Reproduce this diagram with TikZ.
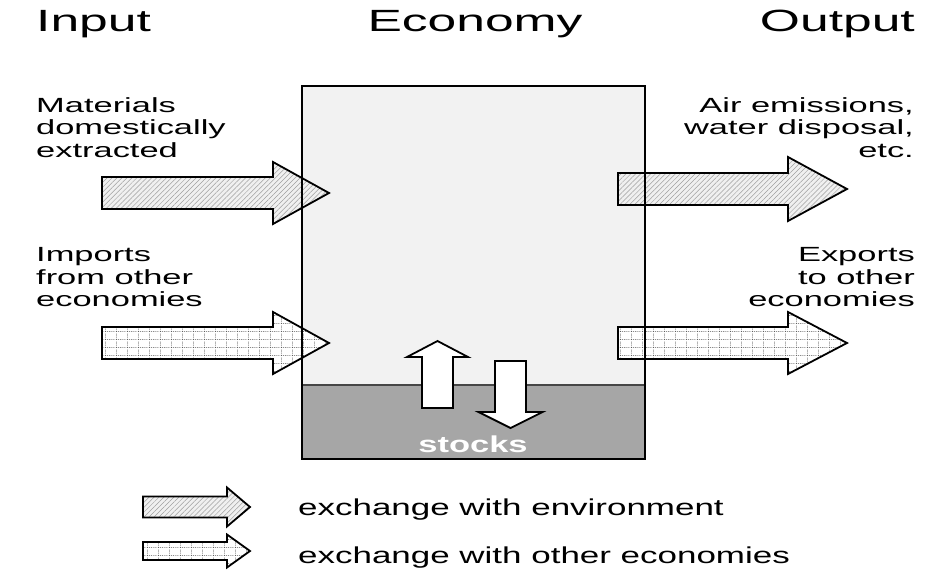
\documentclass[tikz,border=0pt]{standalone}
\usepackage{fontspec}
\setmainfont[FakeStretch=1.68]{Liberation Sans}
\newfontfamily\legfont[FakeStretch=1.52]{Liberation Sans}
\newfontfamily\stkfont[FakeStretch=1.5]{Liberation Sans}
\usetikzlibrary{patterns.meta}

\pgfdeclarepattern{name=dotgrid, type=uncolored,
  bottom left={\pgfpoint{0pt}{0pt}}, top right={\pgfpoint{10.5pt}{8pt}},
  tile size={\pgfpoint{10.5pt}{8pt}},
  code={\pgfsetlinewidth{0.6pt}\pgfsetdash{{1pt}{1pt}}{0pt}%
    \pgfpathmoveto{\pgfpoint{0pt}{0.3pt}}\pgfpathlineto{\pgfpoint{10.5pt}{0.3pt}}%
    \pgfpathmoveto{\pgfpoint{0.3pt}{0pt}}\pgfpathlineto{\pgfpoint{0.3pt}{8pt}}%
    \pgfusepath{stroke}}}

% horizontal arrow: tail x, head-base x, tip x, centre y, half body, half head
\newcommand\harrowpath[6]{(#1,#4-#5) -- (#2,#4-#5) -- (#2,#4-#6) -- (#3,#4) -- (#2,#4+#6) -- (#2,#4+#5) -- (#1,#4+#5) -- cycle}
% vertical arrow: centre x, tail y, head-base y, tip y, half body, half head
\newcommand\varrowpath[6]{(#1-#5,#2) -- (#1-#5,#3) -- (#1-#6,#3) -- (#1,#4) -- (#1+#6,#3) -- (#1+#5,#3) -- (#1+#5,#2) -- cycle}

\tikzset{
  envarrow/.style={draw=black, line width=1.8pt, preaction={fill=gray!12},
    pattern={Lines[angle=45,distance=3.5pt,line width=0.5pt]}, pattern color=gray!75},
  ecoarrow/.style={draw=black, line width=1.8pt, preaction={fill=white},
    pattern=dotgrid, pattern color=gray!60!black},
  stockarrow/.style={draw=black, line width=1.8pt, fill=white},
  titletext/.style={inner sep=0pt, font=\fontsize{30.7}{36}\selectfont},
  labeltext/.style={inner sep=0pt, font=\fontsize{20.5}{22.5}\selectfont},
  legendtext/.style={inner sep=0pt, font=\legfont\fontsize{23}{27}\selectfont},
}

\begin{document}
\begin{tikzpicture}[x=1pt,y=-1pt]
\useasboundingbox (0,0) rectangle (939,572);
\fill[white] (0,0) rectangle (939,572);

% economy box
\fill[gray!10] (302,86) rectangle (645,459);
\fill[gray!70] (302,385) rectangle (645,459);
\draw[gray!55!black, line width=1.2pt] (302,385) -- (645,385);

% stock arrows
\draw[stockarrow] \varrowpath{437.5}{408}{357}{341}{15.5}{30.5};
\draw[stockarrow] \varrowpath{510.5}{361}{412}{428}{15.5}{32};

% input / output arrows
\draw[envarrow] \harrowpath{102}{273}{329}{193}{16}{31};
\draw[ecoarrow] \harrowpath{102}{273}{329}{343}{16}{31};
\draw[envarrow] \harrowpath{618}{788}{847}{189}{16}{32};
\draw[ecoarrow] \harrowpath{618}{788}{847}{343}{16}{31};

% box border
\draw[line width=1.8pt] (302,86) rectangle (645,459);

\node[anchor=base, text=white, inner sep=0pt, font=\stkfont\bfseries\fontsize{23}{27}\selectfont] (stocks) at (473,452) {stocks};

% titles
\node[titletext, anchor=base west] (input) at (36,32) {Input};
\node[titletext, anchor=base] (economy) at (475,32) {Economy};
\node[titletext, anchor=base east] (output) at (915,32) {Output};

% labels
\node[labeltext, anchor=north west, align=left] (materials) at (36,97.3) {Materials\\domestically\\extracted};
\node[labeltext, anchor=north west, align=left] (imports) at (36,247.3) {Imports\\from other\\economies};
\node[labeltext, anchor=north east, align=right] (emissions) at (914,97.3) {Air emissions,\\water disposal,\\etc.};
\node[labeltext, anchor=north east, align=right] (exports) at (915,247.3) {Exports\\to other\\economies};

% legend
\draw[envarrow] \harrowpath{143}{227}{250}{507}{10.5}{19.5};
\draw[ecoarrow] \harrowpath{143}{227}{250}{551}{9}{16.5};
\node[legendtext, anchor=base west] (legenv) at (298,515) {exchange with environment};
\node[legendtext, anchor=base west] (legeco) at (298,563) {exchange with other economies};
\end{tikzpicture}
\end{document}
